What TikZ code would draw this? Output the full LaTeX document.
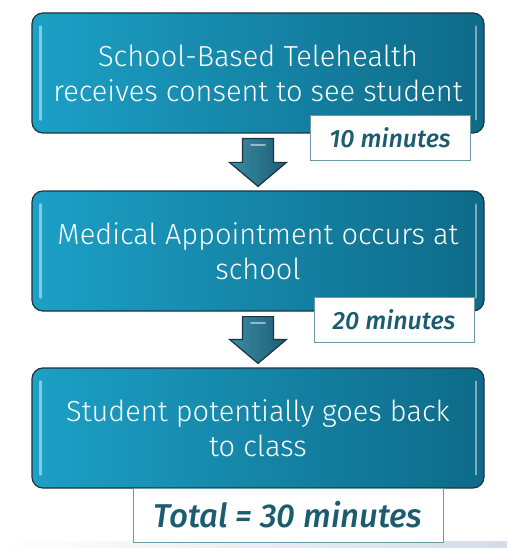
\documentclass[tikz,border=0pt]{standalone}
\usepackage{fontspec}
\setmainfont{Fira Sans}
\IfFontExistsTF{Fira Sans Light}{\newfontfamily\boxfont{Fira Sans Light}}{\newfontfamily\boxfont{Fira Sans}}
\IfFontExistsTF{Fira Sans Medium Italic}{\newfontfamily\lblfont{Fira Sans Medium Italic}}{\newfontfamily\lblfont{Fira Sans}[UprightFont=*-Italic]}
\usetikzlibrary{calc}
\definecolor{boxL}{HTML}{1CA0C6}
\definecolor{boxR}{HTML}{0E6A88}
\definecolor{boxEdge}{HTML}{1E3340}
\definecolor{lblText}{HTML}{1B5C70}
\definecolor{lblEdge}{HTML}{6E98A6}
\definecolor{arrL}{HTML}{3A8CA6}
\definecolor{arrR}{HTML}{1D5D74}
\definecolor{stripC}{HTML}{D3DCE8}
\tikzset{
  stepbox/.style={draw=boxEdge, line width=1.2pt, rounded corners=11pt,
    left color=boxL, right color=boxR, minimum width=452pt, minimum height=120pt,
    text=white, align=center, font=\boxfont\fontsize{29}{35}\selectfont, inner sep=0pt},
  timelbl/.style={draw=lblEdge, line width=0.8pt, fill=white, text=lblText,
    font=\lblfont\fontsize{25}{28}\selectfont, inner sep=0pt},
  blockarrow/.style={draw=boxEdge, line width=1.2pt, left color=arrL, right color=arrR, line join=miter},
  gloss/.style={draw=white, line width=2.2pt, opacity=0.45, line cap=round}
}
\begin{document}
\begin{tikzpicture}[x=1pt,y=-1pt]
\useasboundingbox (0,0) rectangle (507,548);
\fill[white] (0,0) rectangle (507,548);
\shade[left color=white, right color=stripC] (0,541) rectangle (507,548);

\node[stepbox] (b1) at (258,73) {School-Based Telehealth\\receives consent to see student};
\node[stepbox] (b2) at (258,251) {Medical Appointment occurs at\\school};
\node[stepbox] (b3) at (258,428) {Student potentially goes back\\to class};

\foreach \b in {b1,b2,b3}{
  \draw[gloss] ($(\b.north west)+(9,14)$) -- ($(\b.south west)+(9,-14)$);
  \draw[gloss] ($(\b.north east)+(-9,14)$) -- ($(\b.south east)+(-9,-14)$);
}

\node[timelbl, minimum width=160pt, minimum height=45pt] (t1) at (390,137.5) {10 minutes};
\node[timelbl, minimum width=160pt, minimum height=45pt] (t2) at (394,319.5) {20 minutes};
\node[timelbl, minimum width=310pt, minimum height=54pt, font=\lblfont\fontsize{33}{36}\selectfont] (t3) at (288,515) {Total = 30 minutes};

\foreach \a/\b/\n in {b1/b2/a1, b2/b3/a2}{
  \coordinate (\n top) at ($(\a.south)+(0,5)$);
  \coordinate (\n tip) at ($(\b.north)+(0,-4)$);
  \draw[blockarrow] ($(\n top)+(-15.5,0)$) -- ($(\n top)+(15.5,0)$)
     -- ($(\n tip)+(15.5,-24)$) -- ($(\n tip)+(28.5,-24)$) -- (\n tip)
     -- ($(\n tip)+(-28.5,-24)$) -- ($(\n tip)+(-15.5,-24)$) -- cycle;
  \draw[white, opacity=0.5, line width=2pt, line cap=round] ($(\n top)+(-7,6)$) -- ($(\n top)+(7,6)$);
}
\end{tikzpicture}
\end{document}
